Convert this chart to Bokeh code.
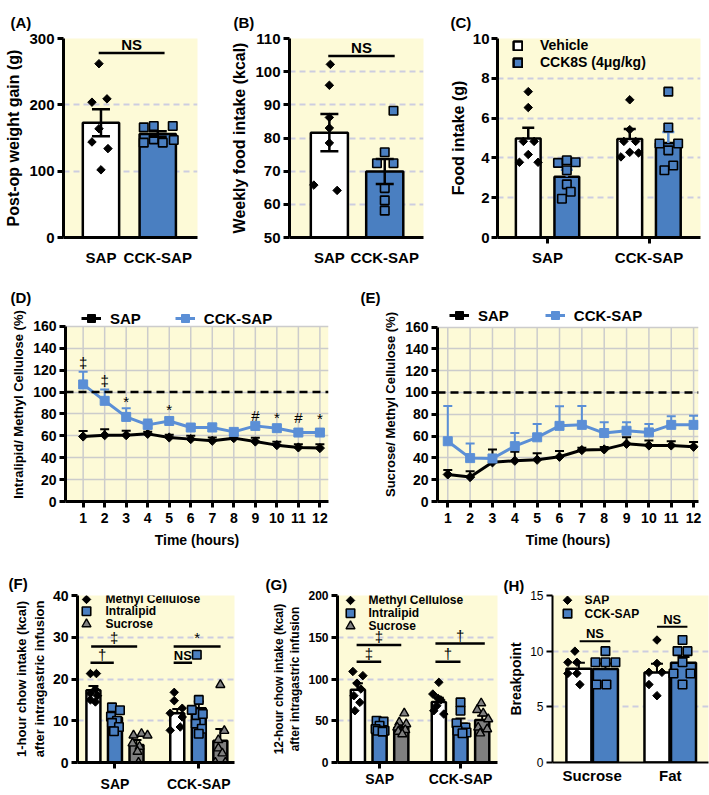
import numpy as np
from bokeh.plotting import figure
from bokeh.layouts import row, column
from bokeh.models import FixedTicker, Legend, LegendItem, Span, Range1d, BoxAnnotation
from bokeh.core.properties import value
from bokeh.embed import file_html
from bokeh.resources import INLINE

FONT = "Liberation Sans"
BG = "#fdfad7"
BLUE = "#4a7fc1"
LBLUE = "#5b8fd6"
GRAY = "#7f7f7f"
DGRID = "#cdcde0"
SGRID = "#cccccc"

# ======================= DATA =======================
# (A) post-op weight gain (g)
A_groups = ["SAP", "CCK-SAP"]
A_yticks = [0, 100, 200, 300]
A_mean = [173, 156]
A_sem = [20.5, 4.0]
A_sap = [262, 204, 209, 164, 144, 134, 102]
A_cck = [166, 168, 168, 143, 148, 143, 147]
A_sig_y = 278

# (B) weekly food intake (kcal)
B_groups = ["SAP", "CCK-SAP"]
B_yticks = [50, 60, 70, 80, 90, 100, 110]
B_mean = [81.6, 69.9]
B_sem = [5.6, 3.8]
B_sap = [102.2, 95.9, 86.2, 83.0, 78.5, 65.8, 64.2]
B_cck = [88.2, 75.7, 72.4, 72.4, 64.9, 61.2, 58.1]
B_sig_y = 104.7

# (C) food intake (g)
C_groups = ["SAP", "CCK-SAP"]
C_series = ["Vehicle", "CCK8S (4\u03bcg/kg)"]
C_yticks = [0, 2, 4, 6, 8, 10]
C_veh_mean = [4.97, 4.95]
C_veh_sem = [0.55, 0.5]
C_cck_mean = [3.05, 4.75]
C_cck_sem = [0.35, 0.55]
C_veh_sap = [7.33, 6.53, 4.83, 4.83, 4.17, 3.78, 3.78]
C_veh_cck = [6.92, 5.42, 4.83, 4.83, 4.28, 4.05, 4.25]
C_cck_sap = [3.75, 3.88, 3.78, 3.38, 2.67, 2.30, 1.95]
C_cck_cck = [7.33, 5.53, 4.72, 4.38, 4.72, 3.62, 3.38]

# (D) intralipid / methyl cellulose (%)
hours = [1, 2, 3, 4, 5, 6, 7, 8, 9, 10, 11, 12]
pct_ticks = [0, 20, 40, 60, 80, 100, 120, 140, 160]
D_sap = [59.4, 60.6, 60.6, 61.8, 58.5, 57.0, 55.5, 57.9, 54.8, 51.5, 49.4, 48.8]
D_sap_sem = [5, 5.5, 4, 2, 2.5, 3, 3, 2.5, 3.5, 3, 3, 3.5]
D_cck = [107, 92, 77.3, 70, 73.6, 67.6, 67.6, 63.6, 69.1, 67, 63, 63]
D_cck_sem = [11.5, 10.4, 7.9, 5, 3, 2.5, 3.6, 1.6, 2.1, 2.7, 2.5, 2.5]
D_sig_hours = [1, 2, 3, 5, 9, 10, 11, 12]
D_sig_text = ["\u2021", "\u2021", "*", "*", "#", "*", "#", "*"]
D_sig_y = [127, 110.6, 91.5, 84, 78.2, 76.5, 76.7, 75.8]

# (E) sucrose / methyl cellulose (%)
E_sap = [24.8, 22.4, 35.9, 37.4, 38.3, 41.0, 47.2, 47.8, 52.9, 51.4, 51.4, 50.2]
E_sap_sem = [4.2, 5.4, 11.9, 8.3, 6.0, 5.4, 2.1, 2.1, 6.0, 4.5, 3.9, 4.5]
E_cck = [55.3, 39.8, 39.5, 50.8, 58.9, 69.4, 70.3, 62.8, 64.9, 63.4, 70.3, 70.3]
E_cck_sem = [32.3, 13.4, 2.0, 12.0, 12.3, 17.9, 17.3, 9.9, 7.8, 7.8, 8.0, 8.3]

# (F) 1-hour chow intake (kcal)
F_groups = ["SAP", "CCK-SAP"]
inf_series = ["Methyl Cellulose", "Intralipid", "Sucrose"]
F_yticks = [0, 10, 20, 30, 40]
F_mc_mean = [17.3, 11.8]
F_mc_sem = [1.0, 1.0]
F_il_mean = [10.8, 13.0]
F_il_sem = [0.9, 1.6]
F_suc_mean = [4.2, 5.2]
F_suc_sem = [1.2, 2.8]
F_mc_sap = [21.3, 21.3, 17.5, 16.5, 16.0, 15.0, 14.5]
F_mc_cck = [16.8, 14.8, 13.0, 11.8, 10.9, 8.5, 7.7]
F_il_sap = [13.2, 12.5, 11.0, 10.0, 9.5, 8.5, 7.5]
F_il_cck = [25.8, 15.0, 12.6, 11.6, 9.3, 8.1, 6.9]
F_suc_sap = [6.5, 6.9, 6.5, 4.6, 3.8, 2.6, 0.0]
F_suc_cck = [18.6, 7.6, 5.4, 3.4, 2.2, 0.0, 0.0]
F_sig_text = ["\u2021", "\u2020", "*", "NS"]
F_sig_y = [27.8, 23.9, 27.8, 23.9]

# (G) 12-hour chow intake (kcal)
G_groups = ["SAP", "CCK-SAP"]
G_yticks = [0, 50, 100, 150, 200]
G_mc_mean = [87.0, 72.5]
G_mc_sem = [8.0, 5.0]
G_il_mean = [43.0, 46.4]
G_il_sem = [3.0, 6.3]
G_suc_mean = [42.0, 51.0]
G_suc_sem = [3.0, 5.0]
G_mc_sap = [109, 104, 95, 88, 80, 72, 62]
G_mc_cck = [96, 82, 77, 75, 68, 62, 58]
G_il_sap = [50, 49, 44, 40, 38, 38, 37]
G_il_cck = [72, 62, 47, 42, 38, 36, 35]
G_suc_sap = [59, 48, 46, 42, 39, 37, 34]
G_suc_cck = [71, 63, 59, 52, 42, 40, 35]
G_sig_text = ["\u2021", "\u2021", "\u2020", "\u2020"]
G_sig_y = [140.6, 120.8, 142.5, 120.8]

# (H) breakpoint
H_groups = ["Sucrose", "Fat"]
H_series = ["SAP", "CCK-SAP"]
H_yticks = [0, 5, 10, 15]
H_sap_mean = [8.42, 8.08]
H_sap_sem = [0.55, 0.8]
H_cck_mean = [8.4, 8.97]
H_cck_sem = [0.5, 0.5]
H_sap_suc = [10, 9, 9, 8, 8, 7]
H_cck_suc = [10, 9, 9, 9, 7, 7]
H_sap_fat = [11, 8.9, 8.1, 8.1, 7.0, 6.0]
H_cck_fat = [11, 10, 10, 9, 8, 8, 7]
H_sig_y = [10.9, 12.2]

# ======================= LAYOUT (screen px, page origin) =======================
A_FIG, A_FRM = (0, 228, 0, 287), (63, 197, 38, 239)
B_FIG, B_FRM = (228, 446, 0, 287), (285, 423, 33, 239)
C_FIG, C_FRM = (446, 709, 0, 287), (493, 700, 33, 237)
D_FIG, D_FRM = (0, 355, 287, 572), (65, 328, 306, 501)
E_FIG, E_FRM = (355, 709, 287, 572), (437, 698, 307, 505)
F_FIG, F_FRM = (0, 262, 572, 795), (77, 234, 595, 764)
G_FIG, G_FRM = (262, 500, 572, 795), (337, 497, 593, 762)
H_FIG, H_FRM = (500, 709, 572, 795), (552, 708, 591, 766)
POS = [1, 2]
D_TOP_PX, E_TOP_PX = 325, 327   # pixel row of the 160 % line

# jitter of individual points (px)
A_sap_jit = [-2, -9, 6, -2, -9, 7, 0]
A_cck_jit = [-14, -4, 15, -14, -4, 5, 16]
B_sap_jit = [1, 0, 0, 0, 0, -16, 8]
B_cck_jit = [9, 0, -8, 9, 0, 0, 0]
C_veh_sap_jit = [0, 0, -5, 6, 0, -9, 10]
C_veh_cck_jit = [0, 0, -6, 6, 0, -9, 9]
C_cck_sap_jit = [-9, 0, 9, 0, 0, 4, -5]
C_cck_cck_jit = [0, 0, -9, 0, 10, 5, -4]
F_jit = {"mc_sap": [-3, 3, 2, -3, 4, -3, 2], "il_sap": [-3, 5, -4, 2, -3, 4, -1],
         "suc_sap": [-3, 5, 11, -4, 3, 1, 2], "mc_cck": [-3, -3, 5, -7, 5, 3, -7],
         "il_cck": [-2, 0, -7, 4, -3, 3, 0], "suc_cck": [0, 4, -2, -2, 2, -5, 5]}
G_jit = {"mc_sap": [-5, 5, -1, 3, -4, 2, -3], "il_sap": [-3, 4, 0, -4, 5, -2, 3],
         "suc_sap": [3, -2, 5, -4, 4, -3, 1], "mc_cck": [0, -6, -1, 2, -2, -5, 5],
         "il_cck": [0, 0, -4, 5, -3, 6, 2], "suc_cck": [-1, -5, 1, 6, -4, 5, -2]}
H_jit = {"sap_suc": [-4, -11, -2, -11, -2, 1], "cck_suc": [0, -10, 0, 10, -9, 1],
         "sap_fat": [0, 0, -8, 5, -8, 0], "cck_fat": [-1, -6, 4, -1, -10, 7, -1]}


# ======================= HELPERS =======================
class Panel:
    def __init__(self, fig_box, frame_box, xr, yr, letter, letter_x, letter_pad, axis_w=3):
        fx0, fx1, fy0, fy1 = fig_box
        px0, px1, py0, py1 = frame_box
        self.frm, self.xr, self.yr = frame_box, xr, yr
        p = figure(width=fx1 - fx0, height=fy1 - fy0, title=letter,
                   min_border_left=px0 - fx0, min_border_right=fx1 - px1,
                   min_border_top=py0 - fy0, min_border_bottom=fy1 - py1,
                   x_range=Range1d(*xr), y_range=Range1d(*yr),
                   output_backend="svg", toolbar_location=None, tools="")
        p.title.align = "left"
        p.title.vertical_align = "top"
        p.title.offset = letter_x - px0
        p.title.standoff = letter_pad
        p.title.text_font = FONT
        p.title.text_font_size = "15px"
        p.title.text_font_style = "bold"
        p.title.text_color = "black"
        p.background_fill_color = BG
        p.border_fill_color = "white"
        p.outline_line_color = None
        p.xgrid.grid_line_color = None
        p.ygrid.grid_line_color = None
        for ax in (p.xaxis[0], p.yaxis[0]):
            ax.axis_line_color = "black"
            ax.axis_line_width = axis_w
            ax.major_tick_line_color = "black"
            ax.major_tick_line_width = axis_w
            ax.major_tick_in = 0
            ax.major_tick_out = 6
            ax.minor_tick_line_color = None
            ax.major_label_text_font = FONT
            ax.major_label_text_font_style = "bold"
            ax.major_label_text_color = "black"
            ax.axis_label_text_font = FONT
            ax.axis_label_text_font_style = "bold"
            ax.axis_label_text_color = "black"
            ax.major_label_standoff = 3
            ax.axis_label_standoff = 4
        self.p = p
        self.sx = (px1 - px0) / (xr[1] - xr[0])
        self.sy = (py1 - py0) / (yr[1] - yr[0])

    def dx(self, px):  # absolute screen x -> data x
        return self.xr[0] + (px - self.frm[0]) / self.sx

    def dy(self, py):  # absolute screen y -> data y
        return self.yr[0] + (self.frm[3] - py) / self.sy


def set_y(p, ticks, tick_size, label, label_size, grid=True):
    ax = p.yaxis[0]
    ax.ticker = FixedTicker(ticks=ticks)
    ax.major_label_text_font_size = tick_size
    ax.axis_label = label
    ax.axis_label_text_font_size = label_size
    if grid:
        p.ygrid.ticker = FixedTicker(ticks=ticks[1:-1])
        p.ygrid.grid_line_color = DGRID
        p.ygrid.grid_line_width = 2
        p.ygrid.grid_line_dash = "6 4"


def set_x(p, labels, size, ticks=True, standoff=5):
    ax = p.xaxis[0]
    ax.ticker = FixedTicker(ticks=POS)
    ax.major_label_overrides = {POS[i]: labels[i] for i in range(len(labels))}
    ax.major_label_text_font_size = size
    ax.major_label_standoff = standoff
    if not ticks:
        ax.major_tick_line_color = None


def pts(p, xs, vals, kind):
    if kind == "diamond":
        return p.scatter(xs, vals, marker="square", angle=np.pi / 4, size=6,
                         fill_color="black", line_color="black", line_width=1)
    if kind == "square":
        return p.scatter(xs, vals, marker="square", size=8.5, fill_color=BLUE,
                         line_color="black", line_width=1.6)
    return p.scatter(xs, vals, marker="triangle", size=9, fill_color=GRAY,
                     line_color="black", line_width=1.4)


def jx(center, jit, scale):
    return [center + j / scale for j in jit]


def errbars(p, xs, mean, sem, color="black", cap=14, both=False, width=2.5):
    m = np.asarray(mean, float)
    s = np.asarray(sem, float)
    lo = m - s if both else m
    p.segment(x0=xs, y0=lo, x1=xs, y1=m + s, line_color=color, line_width=width)
    p.scatter(xs, m + s, marker="dash", size=cap, line_color=color, line_width=width)
    if both:
        p.scatter(xs, m - s, marker="dash", size=cap, line_color=color, line_width=width)


def sig(p, x0, x1, y, text, size, bold=False, lw=2.5):
    p.segment(x0=[x0], y0=[y], x1=[x1], y1=[y], line_color="black", line_width=lw)
    p.text(x=[(x0 + x1) / 2], y=[y], text=[text], text_align="center", text_baseline="bottom",
           text_font=value(FONT), text_font_size=value(size),
           text_font_style="bold" if bold else "normal", text_color="black")


def legend(p, items, loc, size, glyph=20, label_h=16, spacing=0, standoff=8,
           orientation="vertical", glyph_w=None):
    lg = Legend(items=items, location=loc, orientation=orientation, padding=0, margin=0,
                spacing=spacing, label_standoff=standoff, glyph_width=glyph_w or glyph,
                glyph_height=glyph, label_height=label_h, label_text_font=FONT,
                label_text_font_style="bold", label_text_font_size=size,
                label_text_color="black", background_fill_alpha=0, border_line_color=None)
    p.add_layout(lg)


def key(P, labels, kinds, mx, tx, ys, size="12px"):
    """Marker key drawn inside the frame (positions in screen px)."""
    p = P.p
    for lab, kind, y in zip(labels, kinds, ys):
        pts(p, [P.dx(mx)], [P.dy(y)], kind)
        p.text(x=[P.dx(tx)], y=[P.dy(y)], text=[lab], text_align="left", text_baseline="middle",
               text_font=value(FONT), text_font_size=value(size), text_font_style="bold",
               text_color="black")


# ======================= (A) =======================
PA = Panel(A_FIG, A_FRM, (0.34, 2.70), (0, 300), "(A)", 10, 12)
pa = PA.p
set_y(pa, A_yticks, "15px", "Post-op weight gain (g)", "16px")
set_x(pa, A_groups, "15px", ticks=False, standoff=5)
pa.vbar(x=POS, top=A_mean, bottom=0, width=0.64, fill_color=["white", BLUE],
        line_color="black", line_width=2.5)
pts(pa, jx(POS[0], A_sap_jit, PA.sx), A_sap, "diamond")
pts(pa, jx(POS[1], A_cck_jit, PA.sx), A_cck, "square")
errbars(pa, POS, A_mean, A_sem, cap=18, both=True)
sig(pa, 0.96, 2.12, A_sig_y, "NS", "15px", bold=True)

# ======================= (B) =======================
PB = Panel(B_FIG, B_FRM, (0.28, 2.70), (50, 110), "(B)", 229, 12)
pb = PB.p
set_y(pb, B_yticks, "15px", "Weekly food intake (kcal)", "16px")
set_x(pb, B_groups, "15px", ticks=False, standoff=5)
pb.vbar(x=POS, top=B_mean, bottom=50, width=0.67, fill_color=["white", BLUE],
        line_color="black", line_width=2.5)
pts(pb, jx(POS[0], B_sap_jit, PB.sx), B_sap, "diamond")
pts(pb, jx(POS[1], B_cck_jit, PB.sx), B_cck, "square")
errbars(pb, POS, B_mean, B_sem, cap=18, both=True)
sig(pb, 0.98, 2.18, B_sig_y, "NS", "15px", bold=True)

# ======================= (C) =======================
PC = Panel(C_FIG, C_FRM, (0.507, 2.507), (0, 10), "(C)", 446, 12)
pc = PC.p
set_y(pc, C_yticks, "15px", "Food intake (g)", "16px")
pc.yaxis[0].major_label_standoff = 2
pc.yaxis[0].axis_label_standoff = 3
set_x(pc, C_groups, "15px", ticks=True, standoff=5)
C_d = 0.19
c_vx = [g - C_d for g in POS]
c_cx = [g + C_d for g in POS]
r_veh = pc.vbar(x=c_vx, top=C_veh_mean, bottom=0, width=0.244, fill_color="white",
                line_color="black", line_width=2.5)
r_cck = pc.vbar(x=c_cx, top=C_cck_mean, bottom=0, width=0.244, fill_color=BLUE,
                line_color="black", line_width=2.5)
errbars(pc, c_vx, C_veh_mean, C_veh_sem, cap=12)
errbars(pc, c_cx, C_cck_mean, C_cck_sem, color=LBLUE, cap=12)
pts(pc, jx(c_vx[0], C_veh_sap_jit, PC.sx) + jx(c_vx[1], C_veh_cck_jit, PC.sx),
    C_veh_sap + C_veh_cck, "diamond")
pts(pc, jx(c_cx[0], C_cck_sap_jit, PC.sx) + jx(c_cx[1], C_cck_cck_jit, PC.sx),
    C_cck_sap + C_cck_cck, "square")
legend(pc, [LegendItem(label=C_series[0], renderers=[r_veh]),
            LegendItem(label=C_series[1], renderers=[r_cck])],
       (15, 237 - 70), "14px", glyph=11, label_h=16, spacing=1, standoff=17)


# ======================= (D)/(E) =======================
def time_panel(fig, frm, top_px, ylabel, sap, sap_sem, cck, cck_sem, xr, leg_x, leg_cy,
               leg_spacing, let, lx):
    sy = (frm[3] - top_px) / 160.0
    ymax = 160 + (top_px - frm[2]) / sy
    P = Panel(fig, frm, xr, (0, ymax), let, lx, 0)
    p = P.p
    p.background_fill_color = "white"
    p.add_layout(BoxAnnotation(bottom=0, top=160, fill_color=BG, fill_alpha=1,
                               line_color=None, level="image"))
    set_y(p, pct_ticks, "14px", ylabel, "13px", grid=False)
    p.yaxis[0].bounds = (0, 160)
    p.xaxis[0].ticker = FixedTicker(ticks=hours)
    p.xaxis[0].major_label_text_font_size = "14px"
    p.xaxis[0].major_label_standoff = 5
    p.xaxis[0].axis_label = "Time (hours)"
    p.xaxis[0].axis_label_text_font_size = "14px"
    p.xaxis[0].axis_label_standoff = 6
    p.ygrid.ticker = FixedTicker(ticks=pct_ticks)
    p.ygrid.grid_line_color = SGRID
    p.ygrid.grid_line_width = 1.5
    p.segment(x0=hours, y0=[0] * len(hours), x1=hours, y1=[160] * len(hours),
              line_color=SGRID, line_width=1.5, level="underlay")
    p.add_layout(Span(location=100, dimension="width", line_color="black",
                      line_dash="8 5", line_width=2.5))
    errbars(p, hours, sap, sap_sem, color="black", cap=9, width=2)
    errbars(p, hours, cck, cck_sem, color=LBLUE, cap=9, width=2)
    l1 = p.line(hours, sap, line_color="black", line_width=3)
    m1 = p.scatter(hours, sap, marker="square", angle=np.pi / 4, size=6.5,
                   fill_color="black", line_color="black")
    l2 = p.line(hours, cck, line_color=LBLUE, line_width=3)
    m2 = p.scatter(hours, cck, marker="square", size=9, fill_color=LBLUE, line_color=LBLUE)
    legend(p, [LegendItem(label="SAP", renderers=[l1, m1]),
               LegendItem(label="CCK-SAP", renderers=[l2, m2])],
           (leg_x - frm[0], frm[3] - leg_cy - 10), "15px", glyph=20, label_h=18,
           spacing=leg_spacing, standoff=9, orientation="horizontal")
    return p


pd_ = time_panel(D_FIG, D_FRM, D_TOP_PX, "Intralipid/ Methyl Cellulose (%)",
                 D_sap, D_sap_sem, D_cck, D_cck_sem, (0.18, 12.4), 81, 318, 34, "(D)", 10)
pd_.text(x=D_sig_hours, y=D_sig_y, text=D_sig_text, text_align="center", text_baseline="middle",
         text_font=value(FONT), text_font_size=value("15px"), text_color="black")
pe_ = time_panel(E_FIG, E_FRM, E_TOP_PX, "Sucrose/ Methyl Cellulose (%)",
                 E_sap, E_sap_sem, E_cck, E_cck_sem, (0.54, 12.22), 449, 319, 36, "(E)", 360)


# ======================= (F)/(G) =======================
def infusion_panel(fig, frm, xr, yr, yticks, tick_size, ylabel, label_size, d, bw,
                   means, sems, sap_pts, cck_pts, jit, sig_text, sig_y, sig_x,
                   key_mx, key_tx, key_ys, let, lx, lpad, xstand):
    P = Panel(fig, frm, xr, yr, let, lx, lpad)
    p = P.p
    set_y(p, yticks, tick_size, ylabel, label_size)
    p.yaxis[0].axis_label_standoff = 3
    set_x(p, F_groups, "14px", ticks=True, standoff=xstand)
    offs = [-d, 0, d]
    cols = ["white", BLUE, GRAY]
    kinds = ["diamond", "square", "triangle"]
    keys = ["mc", "il", "suc"]
    for i in range(3):
        xs = [g + offs[i] for g in POS]
        p.vbar(x=xs, top=means[i], bottom=0, width=bw, fill_color=cols[i],
               line_color="black", line_width=2.5)
        errbars(p, xs, means[i], sems[i], cap=10, width=2)
        pts(p, jx(xs[0], jit[keys[i] + "_sap"], P.sx) + jx(xs[1], jit[keys[i] + "_cck"], P.sx),
            sap_pts[i] + cck_pts[i], kinds[i])
    for t, y, (x0, x1) in zip(sig_text, sig_y, sig_x):
        sig(p, x0, x1, y, t, "13px" if t == "NS" else "15px", bold=(t == "NS"))
    key(P, inf_series, kinds, key_mx, key_tx, key_ys)
    return p


pf_ = infusion_panel(F_FIG, F_FRM, (0.553, 2.426), (0, 40), F_yticks, "14px",
                     "1-hour chow intake (kcal)\nafter intragastric infusion", "13px",
                     0.257, 0.167,
                     [F_mc_mean, F_il_mean, F_suc_mean], [F_mc_sem, F_il_sem, F_suc_sem],
                     [F_mc_sap, F_il_sap, F_suc_sap], [F_mc_cck, F_il_cck, F_suc_cck], F_jit,
                     F_sig_text, F_sig_y,
                     [(0.716, 1.265), (0.708, 0.986), (1.70, 2.26), (1.70, 1.92)],
                     86, 105, [599, 611, 624], "(F)", 8, 4, 7)
pg_ = infusion_panel(G_FIG, G_FRM, (0.48, 2.457), (0, 200), G_yticks, "12px",
                     "12-hour chow intake (kcal)\nafter intragastric infusion", "12px",
                     0.268, 0.175,
                     [G_mc_mean, G_il_mean, G_suc_mean], [G_mc_sem, G_il_sem, G_suc_sem],
                     [G_mc_sap, G_il_sap, G_suc_sap], [G_mc_cck, G_il_cck, G_suc_cck], G_jit,
                     G_sig_text, G_sig_y,
                     [(0.716, 1.268), (0.716, 1.02), (1.69, 2.30), (1.69, 2.0)],
                     350, 368, [598, 611, 624], "(G)", 265, 2, 2)

# ======================= (H) =======================
PH = Panel(H_FIG, H_FRM, (0.492, 2.49), (0, 15), "(H)", 503, 0, axis_w=2)
ph = PH.p
set_y(ph, H_yticks, "12px", "Breakpoint", "14px")
ph.yaxis[0].major_label_text_font_style = "normal"
ph.yaxis[0].axis_label_standoff = 3
set_x(ph, H_groups, "15px", ticks=False, standoff=1)
ph.xaxis[0].major_tick_out = 3
H_d = 0.17
h_sx = [g - H_d for g in POS]
h_cx = [g + H_d for g in POS]
ph.vbar(x=h_sx, top=H_sap_mean, bottom=0, width=0.32, fill_color="white",
        line_color="black", line_width=2.5)
ph.vbar(x=h_cx, top=H_cck_mean, bottom=0, width=0.32, fill_color=BLUE,
        line_color="black", line_width=2.5)
errbars(ph, h_sx, H_sap_mean, H_sap_sem, cap=12, width=2)
errbars(ph, h_cx, H_cck_mean, H_cck_sem, cap=12, width=2)
pts(ph, jx(h_sx[0], H_jit["sap_suc"], PH.sx) + jx(h_sx[1], H_jit["sap_fat"], PH.sx),
    H_sap_suc + H_sap_fat, "diamond")
pts(ph, jx(h_cx[0], H_jit["cck_suc"], PH.sx) + jx(h_cx[1], H_jit["cck_fat"], PH.sx),
    H_cck_suc + H_cck_fat, "square")
sig(ph, 0.84, 1.233, H_sig_y[0], "NS", "13px", bold=True, lw=2)
sig(ph, 1.83, 2.22, H_sig_y[1], "NS", "13px", bold=True, lw=2)
key(PH, H_series, ["diamond", "square"], 567, 584, [596, 610])

layout = column(row(pa, pb, pc), row(pd_, pe_), row(pf_, pg_, ph))
open("out.html", "w").write(file_html(layout, INLINE))
